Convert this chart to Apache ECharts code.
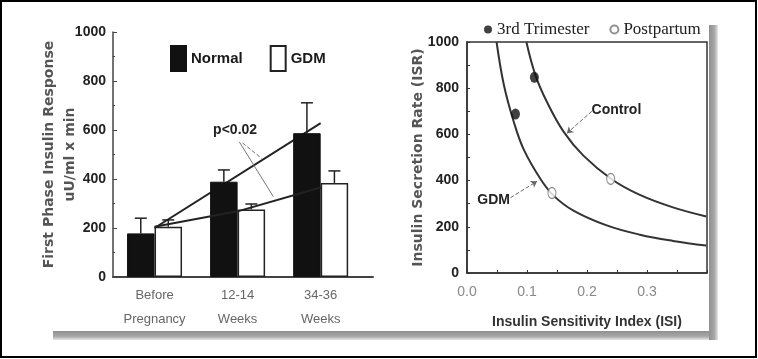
<!DOCTYPE html>
<html>
<head>
<meta charset="utf-8">
<script src="https://cdn.jsdelivr.net/npm/echarts@6/dist/echarts.min.js"></script>
<style>
html,body{margin:0;padding:0;background:#fff;}
#chart{width:758px;height:359px;}
</style>
</head>
<body>
<div id="chart"></div>
<script>
// ---------- Left panel data ----------
const categories = ['Before\nPregnancy', '12-14\nWeeks', '34-36\nWeeks'];
const normalValues = [178, 389, 587];
const gdmValues = [205, 276, 384];
const normalErrTop = [240, 437, 711];
const gdmErrTop = [233, 298, 433];
const normalTrend = [200, null, 628];
const gdmTrend = [205, 268, 365];
const leftYTicks = [0, 200, 400, 600, 800, 1000];
const pNoteText = 'p<0.02';
const pNoteAt = [0.97, 600];
const pNoteLineA = [[1.02, 552], [1.43, 328]];
const pNoteLineB = [[1.06, 547], [1.29, 484]];

// ---------- Right panel data ----------
const controlCurveISI = [0.0990, 0.1139, 0.1333, 0.1609, 0.1940, 0.2411, 0.2881, 0.3433, 0.3987];
const controlCurveISR = [1000, 858, 740, 612, 508, 406, 338, 284, 245];
const gdmCurveISI = [0.0493, 0.0614, 0.0779, 0.0945, 0.1222, 0.1443, 0.1774, 0.2328, 0.2881, 0.3433, 0.3987];
const gdmCurveISR = [1000, 815, 655, 535, 408, 335, 270, 206, 166, 139, 119];
const trimesterISI = [0.1123, 0.0808];
const trimesterISR = [847, 688];
const postpartumISI = [0.2395, 0.1416];
const postpartumISR = [407, 346];
const rightXTicks = [0.0, 0.1, 0.2, 0.3];
const controlLabelAt = [0.249, 707];
const controlArrow = [[0.208, 700], [0.1665, 605]];
const gdmLabelAt = [0.0443, 317];
const gdmArrow = [[0.0725, 326], [0.1167, 397]];

const BAR_W = 27.5;
const pairs = (xs, ys) => xs.map((x, i) => [x, ys[i]]);
const idx = categories.map((_, i) => i);

function errRender(side) {
  return function (params, api) {
    const x = api.value(0), top = api.value(1), err = api.value(2);
    const p0 = api.coord([x, top]);
    const p1 = api.coord([x, err]);
    const cx = p0[0] + side * BAR_W / 2;
    const cap = 6;
    return {
      type: 'group',
      children: [
        { type: 'line', shape: { x1: cx, y1: p0[1], x2: cx, y2: p1[1] }, style: { stroke: '#222', lineWidth: 1.5 } },
        { type: 'line', shape: { x1: cx - cap, y1: p1[1], x2: cx + cap, y2: p1[1] }, style: { stroke: '#222', lineWidth: 1.5 } }
      ]
    };
  };
}

const chart = echarts.init(document.getElementById('chart'), null, { renderer: 'canvas' });

const axisNameFont = { fontFamily: 'DejaVu Sans', fontWeight: 'bold', fontSize: 14, color: '#555' };

const option = {
  animation: false,
  backgroundColor: '#fff',
  textStyle: { fontFamily: 'Liberation Sans, Arial, sans-serif' },
  legend: [
    {
      data: ['Normal', 'GDM'],
      left: 165, top: 40,
      icon: 'rect',
      itemWidth: 15, itemHeight: 25, itemGap: 27,
      selectedMode: false,
      textStyle: { fontSize: 15, fontWeight: 'bold', color: '#1a1a1a', fontFamily: 'Liberation Sans, Arial, sans-serif' }
    },
    {
      data: ['3rd Trimester', 'Postpartum'],
      left: 479, top: 16,
      icon: 'circle',
      itemWidth: 8, itemHeight: 11, itemGap: 20,
      selectedMode: false,
      textStyle: { fontSize: 17, color: '#222', fontFamily: 'Liberation Serif, Times New Roman, serif' }
    }
  ],
  grid: [
    { left: 113, top: 32, width: 260, height: 245 },
    { left: 467, top: 42, width: 240, height: 231, show: true, borderColor: '#333', borderWidth: 1.5, backgroundColor: 'transparent' }
  ],
  xAxis: [
    {
      gridIndex: 0, type: 'value', min: -0.5, max: 2.63,
      splitLine: { show: false },
      axisLine: { show: true, onZero: false, lineStyle: { color: '#444', width: 2 } },
      axisTick: { show: false },
      axisLabel: {
        customValues: idx,
        formatter: v => categories[Math.round(v)],
        color: '#666', fontSize: 13, lineHeight: 24, margin: 6,
        fontFamily: 'Liberation Sans, Arial, sans-serif'
      }
    },
    {
      gridIndex: 1, type: 'value', min: 0, max: 0.4, interval: 0.1,
      splitLine: { show: false },
      axisLine: { show: true, onZero: false, lineStyle: { color: '#333', width: 1.5 } },
      axisTick: { show: true, inside: true, length: 3, lineStyle: { color: '#333' } },
      minorTick: { show: true, splitNumber: 2, length: 3, lineStyle: { color: '#333' } },
      axisLabel: {
        formatter: v => v.toFixed(1), showMaxLabel: false,
        color: '#888', fontSize: 14, margin: 12
      },
      name: 'Insulin Sensitivity Index (ISI)', nameLocation: 'middle', nameGap: 42, nameMoveOverlap: false,
      nameTextStyle: { fontFamily: 'Liberation Sans, Arial, sans-serif', fontWeight: 'bold', fontSize: 14, color: '#333' }
    }
  ],
  yAxis: [
    {
      gridIndex: 0, type: 'value', min: leftYTicks[0], max: leftYTicks[leftYTicks.length - 1], interval: 200,
      splitLine: { show: false },
      axisLine: { show: true, onZero: false, lineStyle: { color: '#444', width: 1.5 } },
      axisTick: { show: true, inside: true, length: 4, lineStyle: { color: '#444' } },
      minorTick: { show: true, splitNumber: 2, length: 2, lineStyle: { color: '#444' } },
      axisLabel: { color: '#222', fontSize: 14, fontWeight: 'bold', margin: 7, formatter: v => String(v) },
      name: 'First Phase Insulin Response\nuU/ml x min', nameLocation: 'middle', nameRotate: 90, nameGap: 32, nameMoveOverlap: false,
      nameTextStyle: Object.assign({ lineHeight: 21 }, axisNameFont)
    },
    {
      gridIndex: 1, type: 'value', min: 0, max: 1000, interval: 200,
      splitLine: { show: false },
      axisLine: { show: true, onZero: false, lineStyle: { color: '#333', width: 1.5 } },
      axisTick: { show: true, inside: true, length: 3, lineStyle: { color: '#333' } },
      minorTick: { show: true, splitNumber: 2, length: 3, lineStyle: { color: '#333' } },
      axisLabel: { color: '#222', fontSize: 14, fontWeight: 'bold', margin: 8, formatter: v => String(v) },
      name: 'Insulin Secretion Rate (ISR)', nameLocation: 'middle', nameRotate: 90, nameGap: 40, nameMoveOverlap: false,
      nameTextStyle: Object.assign({ lineHeight: 18 }, axisNameFont)
    }
  ],
  series: [
    {
      name: 'Normal', type: 'bar', xAxisIndex: 0, yAxisIndex: 0,
      data: idx.map(i => [i, normalValues[i]]),
      barWidth: BAR_W, barGap: '0%',
      itemStyle: { color: '#111', borderColor: '#111', borderWidth: 1 },
      z: 2
    },
    {
      name: 'GDM', type: 'bar', xAxisIndex: 0, yAxisIndex: 0,
      data: idx.map(i => [i, gdmValues[i]]),
      barWidth: BAR_W, barGap: '0%',
      itemStyle: { color: '#fff', borderColor: '#222', borderWidth: 1.5 },
      z: 2
    },
    {
      name: 'Normal err', type: 'custom', xAxisIndex: 0, yAxisIndex: 0,
      data: idx.map(i => [i, normalValues[i], normalErrTop[i]]),
      encode: { x: 0, y: [1, 2] },
      renderItem: errRender(-1), z: 3, silent: true
    },
    {
      name: 'GDM err', type: 'custom', xAxisIndex: 0, yAxisIndex: 0,
      data: idx.map(i => [i, gdmValues[i], gdmErrTop[i]]),
      encode: { x: 0, y: [1, 2] },
      renderItem: errRender(1), z: 3, silent: true
    },
    {
      name: 'Normal trend', type: 'line', xAxisIndex: 0, yAxisIndex: 0,
      data: idx.map(i => [i, normalTrend[i]]),
      connectNulls: true, showSymbol: false, silent: true,
      lineStyle: { color: '#222', width: 2 }, z: 1
    },
    {
      name: 'GDM trend', type: 'line', xAxisIndex: 0, yAxisIndex: 0,
      data: idx.map(i => [i, gdmTrend[i]]),
      showSymbol: false, silent: true,
      lineStyle: { color: '#222', width: 2 }, z: 4,
      markLine: {
        silent: true, symbol: 'none', label: { show: false },
        data: [
          [{ coord: pNoteLineA[0], lineStyle: { color: '#777', width: 1, type: 'solid' } }, { coord: pNoteLineA[1] }],
          [{ coord: pNoteLineB[0], lineStyle: { color: '#777', width: 1, type: 'dashed' } }, { coord: pNoteLineB[1] }]
        ]
      },
      markPoint: {
        silent: true, symbol: 'circle', symbolSize: 1,
        itemStyle: { color: 'rgba(0,0,0,0)' },
        label: { show: true, position: 'inside', formatter: pNoteText, fontSize: 14, fontWeight: 'bold', color: '#222' },
        data: [{ coord: pNoteAt }]
      }
    },
    {
      name: 'Control curve', type: 'line', xAxisIndex: 1, yAxisIndex: 1,
      data: pairs(controlCurveISI, controlCurveISR),
      smooth: 0.4, showSymbol: false, silent: true,
      lineStyle: { color: '#333', width: 2 }, z: 2,
      markLine: {
        silent: true, symbol: ['none', 'arrow'], symbolSize: 6, label: { show: false },
        lineStyle: { color: '#666', width: 1, type: 'dashed' },
        data: [[{ coord: controlArrow[0] }, { coord: controlArrow[1] }]]
      },
      markPoint: {
        silent: true, symbol: 'circle', symbolSize: 1,
        itemStyle: { color: 'rgba(0,0,0,0)' },
        label: { show: true, position: 'inside', formatter: 'Control', fontSize: 14, fontWeight: 'bold', color: '#222' },
        data: [{ coord: controlLabelAt }]
      }
    },
    {
      name: 'GDM curve', type: 'line', xAxisIndex: 1, yAxisIndex: 1,
      data: pairs(gdmCurveISI, gdmCurveISR),
      smooth: 0.4, showSymbol: false, silent: true,
      lineStyle: { color: '#333', width: 2 }, z: 2,
      markLine: {
        silent: true, symbol: ['none', 'arrow'], symbolSize: 6, label: { show: false },
        lineStyle: { color: '#666', width: 1, type: 'dashed' },
        data: [[{ coord: gdmArrow[0] }, { coord: gdmArrow[1] }]]
      },
      markPoint: {
        silent: true, symbol: 'circle', symbolSize: 1,
        itemStyle: { color: 'rgba(0,0,0,0)' },
        label: { show: true, position: 'inside', formatter: 'GDM', fontSize: 14, fontWeight: 'bold', color: '#222' },
        data: [{ coord: gdmLabelAt }]
      }
    },
    {
      name: '3rd Trimester', type: 'scatter', xAxisIndex: 1, yAxisIndex: 1,
      data: pairs(trimesterISI, trimesterISR),
      symbol: 'circle', symbolSize: [9, 11],
      itemStyle: { color: '#111' }, z: 5
    },
    {
      name: 'Postpartum', type: 'scatter', xAxisIndex: 1, yAxisIndex: 1,
      data: pairs(postpartumISI, postpartumISR),
      symbol: 'circle', symbolSize: [8, 11],
      itemStyle: { color: '#fff', borderColor: '#777', borderWidth: 1.2 }, z: 5
    }
  ],
  graphic: [
    { type: 'rect', silent: true, z: -1, shape: { x: 53, y: 331, width: 665, height: 9 },
      style: { fill: new echarts.graphic.LinearGradient(0, 0, 0, 1, [{ offset: 0, color: '#8f8f8f' }, { offset: 0.6, color: '#a8a8a8' }, { offset: 1, color: '#e6e6e6' }]) } },
    { type: 'rect', silent: true, z: -1, shape: { x: 709, y: 25, width: 9, height: 315 },
      style: { fill: new echarts.graphic.LinearGradient(0, 0, 1, 0, [{ offset: 0, color: '#8f8f8f' }, { offset: 0.6, color: '#a8a8a8' }, { offset: 1, color: '#e6e6e6' }]) } },
    { type: 'rect', silent: true, z: 10, shape: { x: 1, y: 1, width: 755, height: 356 },
      style: { fill: 'none', stroke: '#000', lineWidth: 2 } }
  ]
};

chart.setOption(option);
</script>
</body>
</html>
